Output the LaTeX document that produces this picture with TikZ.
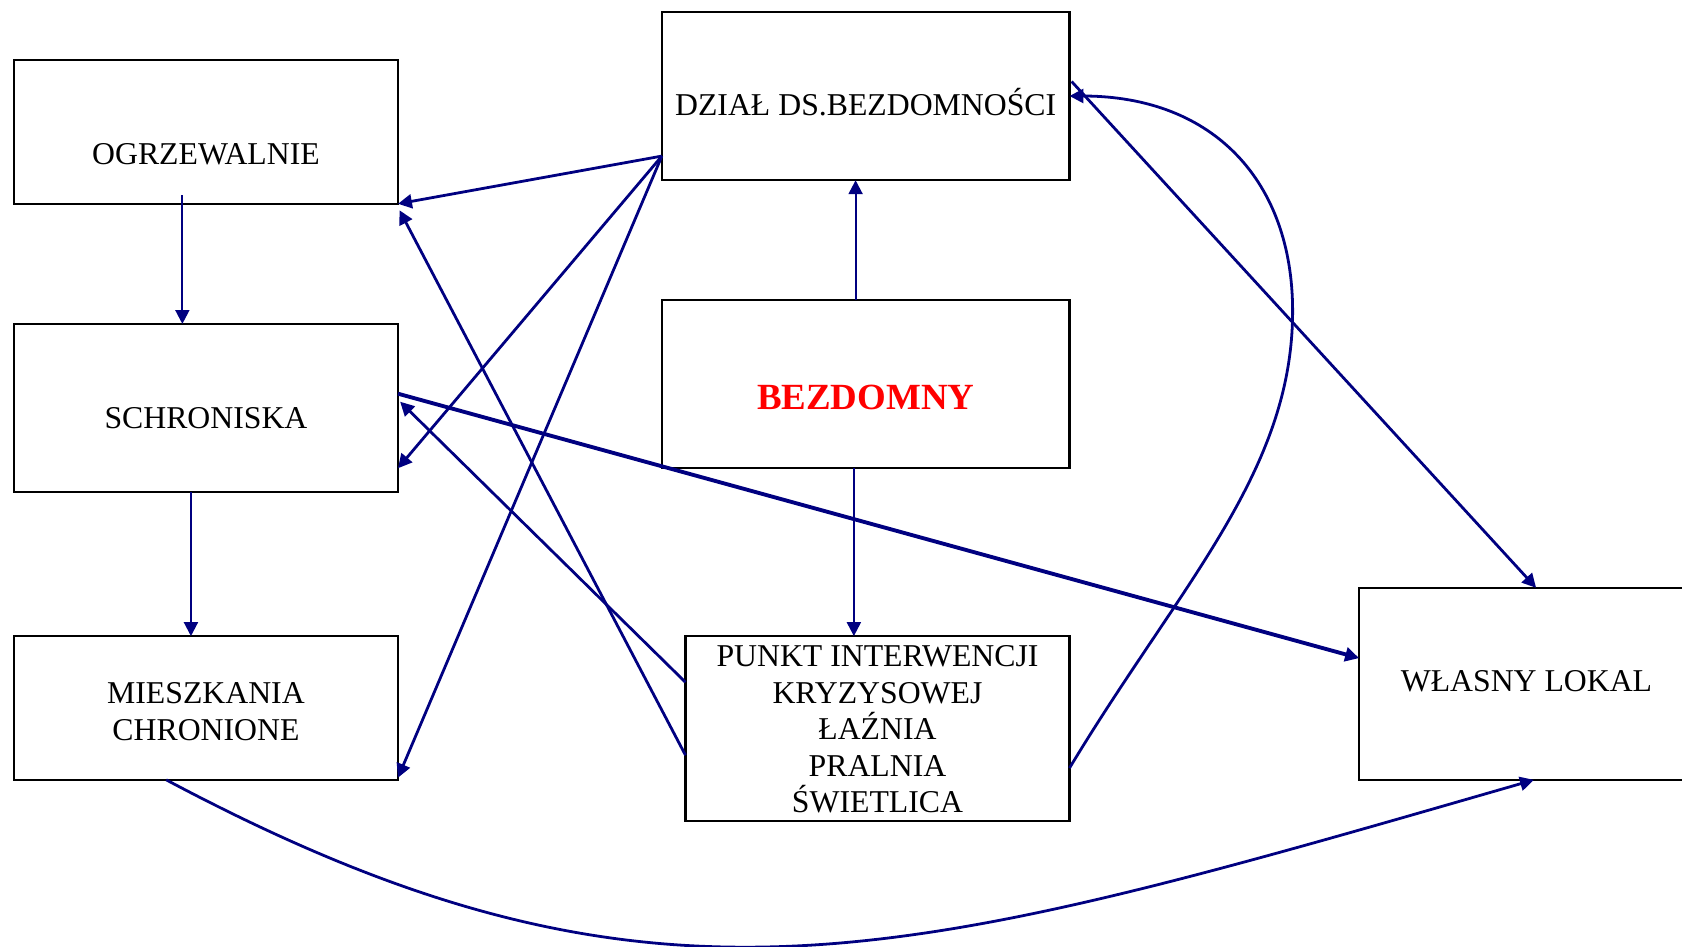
\documentclass[tikz,border=0pt]{standalone}
\usepackage{fontspec}
\setmainfont{Liberation Serif}
\usetikzlibrary{arrows.meta,calc}
\definecolor{flowblue}{RGB}{0,0,128}

\begin{document}
\begin{tikzpicture}[x=0.5pt,y=-0.5pt,
  box/.style={draw,line width=1pt,inner sep=0pt,outer sep=0pt},
  caption/.style={font=\fontsize{14.8}{17}\selectfont,anchor=base,align=center,inner sep=0pt},
  flow/.style={color=flowblue,line width=1.3pt,-{Triangle[length=6.5pt,width=6.5pt]}},
  slim/.style={line width=1pt}]
  \useasboundingbox (0,0) rectangle (1568,882);

  % boxes
  \node[box,minimum width=179pt,minimum height=67pt] (ogrz) at (192,123) {};
  \node[box,minimum width=179pt,minimum height=78.5pt] (schr) at (192,380.5) {};
  \node[box,minimum width=179pt,minimum height=67pt] (miesz) at (192,660) {};
  \node[box,minimum width=190pt,minimum height=78.5pt] (dzial) at (807,89.5) {};
  \node[box,minimum width=190pt,minimum height=78pt] (bezd) at (807,358) {};
  \node[box,minimum width=179pt,minimum height=86pt] (punkt) at (818,679) {};
  \node[box,minimum width=156pt,minimum height=89.5pt] (wlasny) at (1423,637.5) {};

  % texts (base = last line)
  \node[caption] (ogrz-t) at (192,153) {OGRZEWALNIE};
  \node[caption] (schr-t) at (192,399) {SCHRONISKA};
  \node[caption] (miesz-t) at (192,690) {MIESZKANIA\\CHRONIONE};
  \node[caption] (dzial-t) at (807,108) {DZIAŁ DS.BEZDOMNOŚCI};
  \node[caption,font=\fontsize{17.2}{20}\selectfont\bfseries,text=red] (bezd-t) at (807,381.3) {BEZDOMNY};
  \node[caption] (punkt-t) at (818,757.5) {PUNKT INTERWENCJI\\KRYZYSOWEJ\\ŁAŹNIA\\PRALNIA\\ŚWIETLICA};
  \node[caption] (wlasny-t) at (1423,644.8) {WŁASNY LOKAL};

  \path[flow]
    ([xshift=-11pt,yshift=4pt]ogrz.south) edge[slim] ([xshift=-11pt]schr.north)
    ([xshift=-7pt]schr.south) edge[slim] ([xshift=-7pt]miesz.north)
    ([xshift=-4.7pt]bezd.north) edge[slim] ([xshift=-4.7pt]dzial.south)
    ([xshift=-5.5pt]bezd.south) edge[slim] ([xshift=-11pt]punkt.north)
    ([yshift=-28pt]dzial.west) edge (ogrz.south east)
    ([yshift=-28pt]dzial.west) edge ([yshift=-28pt]schr.east)
    ([yshift=-28pt]dzial.west) edge ([yshift=1pt]miesz.south east)
    ([yshift=-12.5pt]punkt.west) edge ([xshift=0.7pt,yshift=-3pt]ogrz.south east)
    ([yshift=21.5pt]punkt.west) edge ([xshift=1pt,yshift=3pt]schr.east)
    ([yshift=6.75pt]schr.east) edge[line width=1.8pt] ([yshift=12pt]wlasny.west)
    ([xshift=1pt,yshift=6.75pt]dzial.east) edge ([xshift=4.5pt]wlasny.north);

  \coordinate (punkt-out) at ([yshift=-18.5pt]punkt.east);
  \coordinate (turn) at (1205,290);
  \coordinate (miesz-out) at ([xshift=-18.5pt]miesz.south);
  \coordinate (wlasny-in) at ([xshift=3.5pt]wlasny.south);
  \draw[flow] (punkt-out) .. controls ($(punkt-out)+(103,-171)$) and ($(turn)+(0,150)$) .. (turn)
    .. controls ($(turn)+(0,-120)$) and ($(dzial.east)+(135,0)$) .. (dzial.east);
  \draw[flow] (miesz-out) .. controls ($(miesz-out)+(455,242)$) and ($(wlasny-in)+(-590,170)$) .. (wlasny-in);
\end{tikzpicture}
\end{document}
